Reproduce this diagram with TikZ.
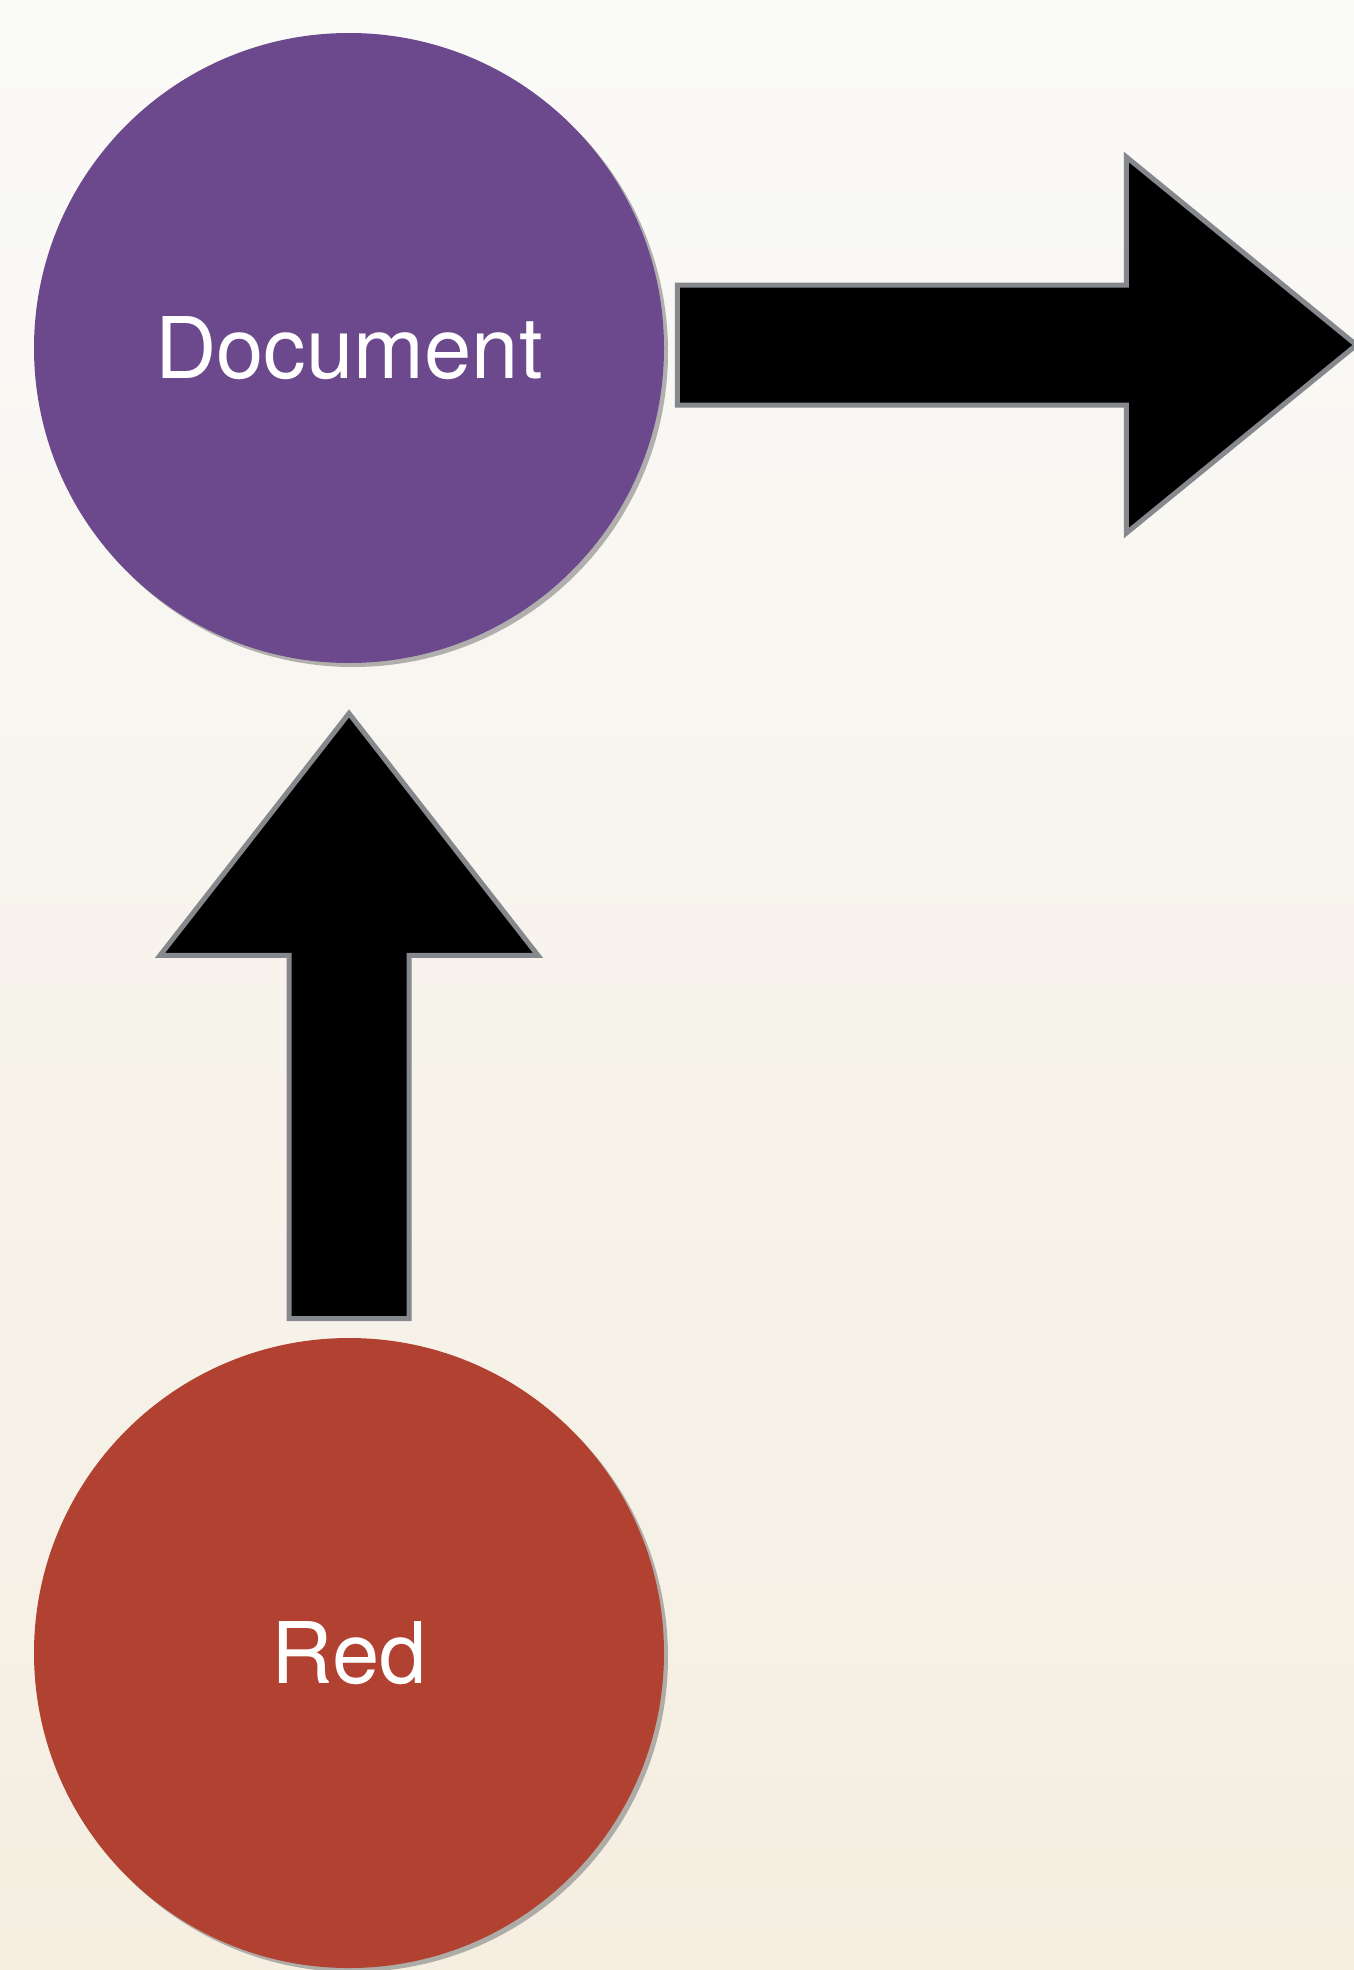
\documentclass[tikz,border=0pt]{standalone}
\usepackage{fontspec}
\setmainfont{TeX Gyre Heros}
\usetikzlibrary{calc}
\usetikzlibrary{shadows}
\definecolor{docpurple}{RGB}{108,72,140}
\definecolor{brickred}{RGB}{177,66,50}
\definecolor{lgrey}{RGB}{133,136,140}
\definecolor{papertop}{RGB}{250,250,248}
\definecolor{paperbot}{RGB}{245,238,225}

\begin{document}
\begin{tikzpicture}[x=0.5pt,y=-0.5pt,bigarrow/.style={fill=black,draw=lgrey,line width=2.5pt,line join=miter}]
  \tikzstyle{blob}=[circle,minimum size=315pt,inner sep=0pt,text=white,font=\fontsize{42.5}{50}\selectfont,drop shadow={opacity=0.6,shadow xshift=2pt,shadow yshift=-2pt}]
  \shade [top color=papertop,bottom color=paperbot] (0,0) rectangle (1354,1970);
  \useasboundingbox (0,0) rectangle (1354,1970);
  \node [blob,fill=docpurple] (doc) at (349,348) {Document};
  \node [blob,fill=brickred] (red) at (349,1653) {Red};
  % red up to doc
  \coordinate (upfoot) at ($(red.north)+(0,-19)$);
  \coordinate (uptip) at ($(doc.south)+(0,50)$);
  \draw [bigarrow] ($(upfoot)+(-60,0)$) -- ($(uptip)+(-60,242)$) -- ($(uptip)+(-189,242)$) -- (uptip)
    -- ($(uptip)+(189,242)$) -- ($(uptip)+(60,242)$) -- ($(upfoot)+(60,0)$) -- cycle;
  % doc out to the right
  \coordinate (rtfoot) at ($(doc.east)+(13,-3)$);
  \coordinate (rttip) at ($(rtfoot)+(679,0)$);
  \draw [bigarrow] ($(rtfoot)+(0,-60)$) -- ($(rttip)+(-230,-60)$) -- ($(rttip)+(-230,-188)$) -- (rttip)
    -- ($(rttip)+(-230,188)$) -- ($(rttip)+(-230,60)$) -- ($(rtfoot)+(0,60)$) -- cycle;
\end{tikzpicture}
\end{document}
